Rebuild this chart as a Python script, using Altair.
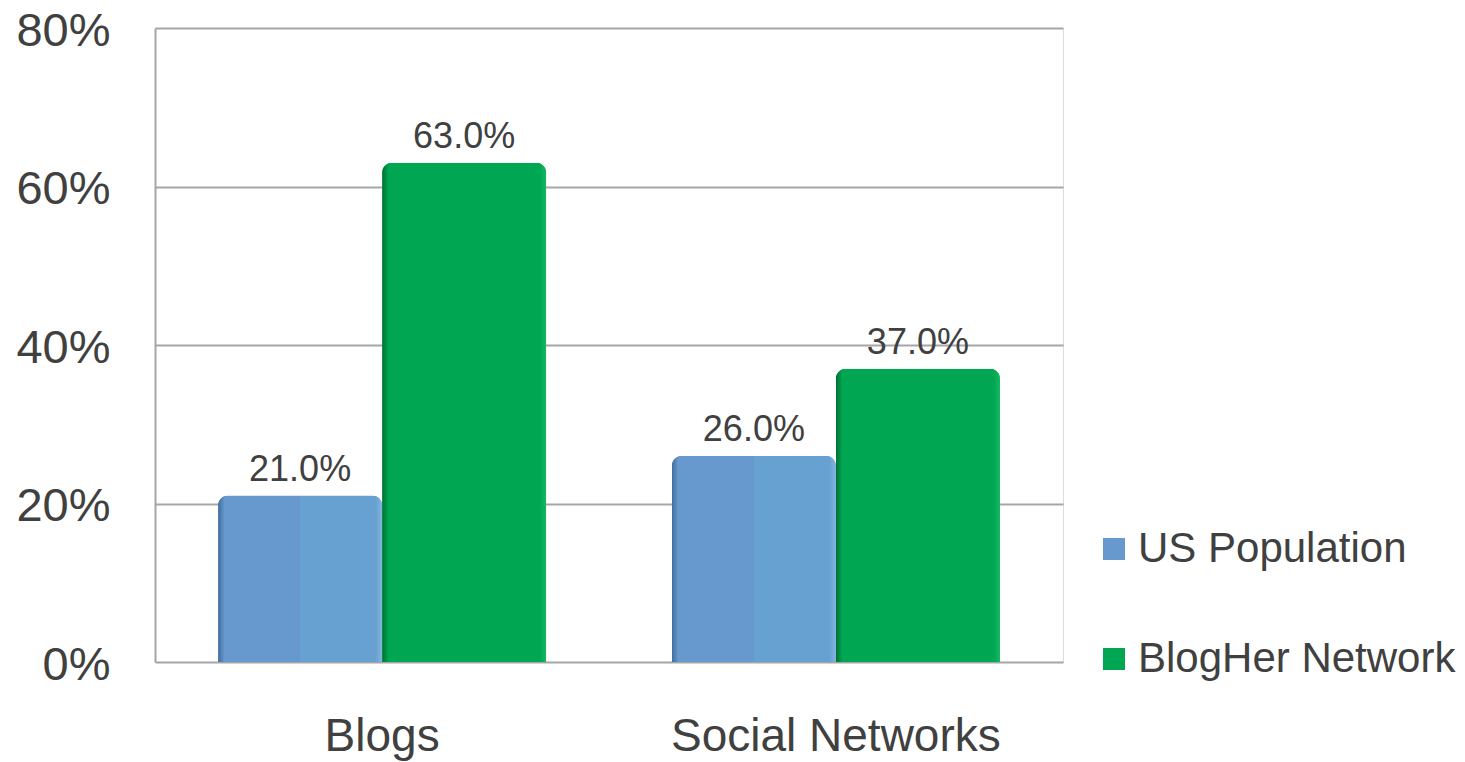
import altair as alt
import pandas as pd

categories = ["Blogs", "Social Networks"]
series = ["US Population", "BlogHer Network"]
us_population = [21.0, 26.0]
blogher_network = [63.0, 37.0]
y_ticks = [0, 20, 40, 60, 80]

rows = []
for i, c in enumerate(categories):
    rows.append({"category": c, "series": series[0], "value": us_population[i]})
    rows.append({"category": c, "series": series[1], "value": blogher_network[i]})
df = pd.DataFrame(rows)
df["label"] = df["value"].map(lambda v: f"{v:.1f}%")

FONT = "Liberation Sans"
TXT = "#404040"
blue_base = "#6799cf"
green_base = "#00a651"

x_enc = alt.X("category:N", sort=categories,
              scale=alt.Scale(paddingInner=0.277, paddingOuter=0.139),
              axis=alt.Axis(title=None, labelAngle=0, labelFontSize=46, labelFont=FONT,
                            labelColor=TXT, labelPadding=52, ticks=False, domain=False,
                            labelLimit=600))
y_enc = alt.Y("value:Q", scale=alt.Scale(domain=[0, 80]),
              axis=alt.Axis(title=None, values=y_ticks, labelExpr="datum.value + '%'",
                            labelFontSize=47, labelFont=FONT, labelColor=TXT,
                            labelPadding=45, labelOffset=3, ticks=False, grid=True,
                            gridColor="#a6a6a6", gridWidth=2, domain=True,
                            domainColor="#a6a6a6", domainWidth=2))
xo = alt.XOffset("series:N", sort=series)

base = alt.Chart(df)

legend_bars = base.mark_bar(cornerRadiusTopLeft=10, cornerRadiusTopRight=10).encode(
    x=x_enc, y=y_enc, xOffset=xo,
    color=alt.Color("series:N", sort=series,
                    scale=alt.Scale(domain=series, range=[blue_base, green_base]),
                    legend=alt.Legend(title=None, orient="none", legendX=938, legendY=500,
                                      symbolType="square", symbolSize=484,
                                      symbolStrokeWidth=0, labelFontSize=42,
                                      labelFont=FONT, labelColor=TXT, rowPadding=68,
                                      labelOffset=3, symbolOpacity=1, labelLimit=600)),
)

def grad(dark, mid1, mid2, light):
    return alt.Gradient(gradient="linear", x1=0, x2=1, y1=0, y2=0, stops=[
        alt.GradientStop(offset=0, color=dark),
        alt.GradientStop(offset=0.04, color=mid1),
        alt.GradientStop(offset=0.5, color=mid1),
        alt.GradientStop(offset=0.5, color=mid2),
        alt.GradientStop(offset=0.96, color=mid2),
        alt.GradientStop(offset=1, color=light),
    ])

blue_bars = base.transform_filter(alt.datum.series == series[0]).mark_bar(
    cornerRadiusTopLeft=10, cornerRadiusTopRight=10,
    color=grad("#3f6c9c", "#6799cf", "#66a1d2", "#86b4de")
).encode(x=x_enc, y=y_enc, xOffset=xo)

green_bars = base.transform_filter(alt.datum.series == series[1]).mark_bar(
    cornerRadiusTopLeft=10, cornerRadiusTopRight=10,
    color=grad("#006e33", "#00a651", "#00a651", "#14b863")
).encode(x=x_enc, y=y_enc, xOffset=xo)

labels = base.mark_text(baseline="alphabetic", dy=-15, fontSize=36, font=FONT, color=TXT).encode(
    x=x_enc, y=y_enc, xOffset=xo, text="label:N")

chart = alt.layer(legend_bars, blue_bars, green_bars, labels).properties(
    width=908, height=634,
    autosize=alt.AutoSizeParams(type="none"),
    padding={"left": 155, "top": 28, "right": 402, "bottom": 100},
).configure_view(stroke=None).configure(background="white")

chart.save("out.html", embed_options={"renderer": "svg", "actions": False})
